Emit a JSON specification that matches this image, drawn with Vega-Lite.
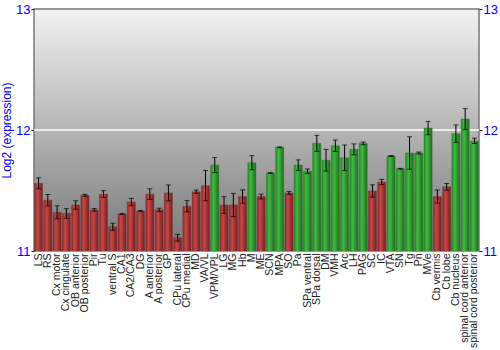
{
  "$schema": "https://vega.github.io/schema/vega-lite/v6.json",
  "width": 445,
  "height": 242,
  "autosize": {"type": "none"},
  "padding": {"left": 34, "top": 9, "right": 21, "bottom": 99},
  "background": "white",
  "config": {
    "font": "Liberation Sans",
    "view": {
      "fill": {"gradient": "linear", "x1": 0, "y1": 0, "x2": 0, "y2": 1,
        "stops": [{"offset": 0, "color": "#f2f2f2"}, {"offset": 1, "color": "#777777"}]},
      "stroke": "#777777",
      "strokeWidth": 1.5
    }
  },
  "datasets": {
    "grid": [{"level": 12}]
  },
  "data": {"values": [
    {"region": "LS", "value": 11.56, "lo": 11.515, "hi": 11.605, "group": "red"},
    {"region": "RS", "value": 11.42, "lo": 11.373, "hi": 11.467, "group": "red"},
    {"region": "Cx motor", "value": 11.32, "lo": 11.266, "hi": 11.374, "group": "red"},
    {"region": "Cx cingulate", "value": 11.31, "lo": 11.27, "hi": 11.35, "group": "red"},
    {"region": "OB anterior", "value": 11.38, "lo": 11.345, "hi": 11.415, "group": "red"},
    {"region": "OB posterior", "value": 11.46, "lo": 11.452, "hi": 11.468, "group": "red"},
    {"region": "Pir", "value": 11.34, "lo": 11.329, "hi": 11.351, "group": "red"},
    {"region": "Tu", "value": 11.47, "lo": 11.442, "hi": 11.498, "group": "red"},
    {"region": "ventral S", "value": 11.2, "lo": 11.171, "hi": 11.229, "group": "red"},
    {"region": "CA1", "value": 11.306, "lo": 11.301, "hi": 11.311, "group": "red"},
    {"region": "CA2/CA3", "value": 11.405, "lo": 11.375, "hi": 11.435, "group": "red"},
    {"region": "DG", "value": 11.33, "lo": 11.325, "hi": 11.335, "group": "red"},
    {"region": "A anterior", "value": 11.47, "lo": 11.426, "hi": 11.514, "group": "red"},
    {"region": "A posterior", "value": 11.34, "lo": 11.326, "hi": 11.354, "group": "red"},
    {"region": "GP", "value": 11.48, "lo": 11.414, "hi": 11.546, "group": "red"},
    {"region": "CPu lateral", "value": 11.11, "lo": 11.082, "hi": 11.138, "group": "red"},
    {"region": "CPu medial", "value": 11.37, "lo": 11.323, "hi": 11.417, "group": "red"},
    {"region": "MD", "value": 11.49, "lo": 11.476, "hi": 11.504, "group": "red"},
    {"region": "VA/VL", "value": 11.54, "lo": 11.415, "hi": 11.665, "group": "red"},
    {"region": "VPM/VPL", "value": 11.71, "lo": 11.648, "hi": 11.772, "group": "green"},
    {"region": "LG", "value": 11.38, "lo": 11.311, "hi": 11.449, "group": "red"},
    {"region": "MG", "value": 11.38, "lo": 11.284, "hi": 11.476, "group": "red"},
    {"region": "Hb", "value": 11.45, "lo": 11.395, "hi": 11.505, "group": "red"},
    {"region": "M", "value": 11.73, "lo": 11.672, "hi": 11.788, "group": "green"},
    {"region": "ME", "value": 11.45, "lo": 11.43, "hi": 11.47, "group": "red"},
    {"region": "SCN", "value": 11.645, "lo": 11.642, "hi": 11.648, "group": "green"},
    {"region": "MPA", "value": 11.857, "lo": 11.854, "hi": 11.86, "group": "green"},
    {"region": "SO", "value": 11.48, "lo": 11.468, "hi": 11.492, "group": "red"},
    {"region": "Pa", "value": 11.71, "lo": 11.667, "hi": 11.753, "group": "green"},
    {"region": "SPa ventral", "value": 11.66, "lo": 11.642, "hi": 11.678, "group": "green"},
    {"region": "SPa dorsal", "value": 11.89, "lo": 11.824, "hi": 11.956, "group": "green"},
    {"region": "DM", "value": 11.75, "lo": 11.66, "hi": 11.84, "group": "green"},
    {"region": "VMH", "value": 11.87, "lo": 11.823, "hi": 11.917, "group": "green"},
    {"region": "Arc", "value": 11.77, "lo": 11.664, "hi": 11.876, "group": "green"},
    {"region": "LH", "value": 11.84, "lo": 11.795, "hi": 11.885, "group": "green"},
    {"region": "PAG", "value": 11.89, "lo": 11.879, "hi": 11.901, "group": "green"},
    {"region": "SC", "value": 11.496, "lo": 11.445, "hi": 11.547, "group": "red"},
    {"region": "IC", "value": 11.57, "lo": 11.548, "hi": 11.592, "group": "red"},
    {"region": "VTA", "value": 11.785, "lo": 11.781, "hi": 11.789, "group": "green"},
    {"region": "SN", "value": 11.68, "lo": 11.677, "hi": 11.683, "group": "green"},
    {"region": "Tg", "value": 11.81, "lo": 11.676, "hi": 11.944, "group": "green"},
    {"region": "Pn", "value": 11.81, "lo": 11.802, "hi": 11.818, "group": "green"},
    {"region": "MVe", "value": 12.016, "lo": 11.961, "hi": 12.071, "group": "green"},
    {"region": "Cb vermis", "value": 11.45, "lo": 11.396, "hi": 11.504, "group": "red"},
    {"region": "Cb lobe", "value": 11.53, "lo": 11.502, "hi": 11.558, "group": "red"},
    {"region": "Cb nucleus", "value": 11.97, "lo": 11.898, "hi": 12.042, "group": "green"},
    {"region": "spinal cord anterior", "value": 12.09, "lo": 12.003, "hi": 12.177, "group": "green"},
    {"region": "spinal cord posterior", "value": 11.91, "lo": 11.888, "hi": 11.932, "group": "green"}
  ]},
  "layer": [
    {
      "data": {"name": "grid"},
      "mark": {"type": "rule", "color": "white", "strokeWidth": 1.5},
      "encoding": {
        "y": {"field": "level", "type": "quantitative", "scale": {"domain": [11, 13], "zero": false, "nice": false},
          "axis": {"orient": "left", "values": [11, 12, 13], "labelExpr": "format(datum.value, 'd')", "title": "Log2 (expression)",
            "titleColor": "#0000ff", "titleFontSize": 12, "titleFontWeight": "normal", "titlePadding": 2,
            "labelColor": "#0000ff", "labelFontSize": 13, "labelPadding": 1, "tickSize": 3, "tickColor": "#222222",
            "labelOverlap": false, "labelFlush": false, "domain": false, "grid": false}}
      }
    },
    {
      "layer": [
        {
          "transform": [{"filter": "datum.group === 'red'"}],
          "mark": {"type": "bar", "clip": true, "color": {"gradient": "linear", "x1": 0, "y1": 0, "x2": 1, "y2": 0,
            "stops": [{"offset": 0, "color": "#8e2222"}, {"offset": 0.35, "color": "#c44a4a"}, {"offset": 1, "color": "#7a1a1a"}]},
            "stroke": "#7a4040", "strokeWidth": 0.5},
          "encoding": {
            "y": {"field": "value", "type": "quantitative", "scale": {"domain": [11, 13], "zero": false, "nice": false},
              "axis": {"orient": "right", "values": [11, 12, 13], "labelExpr": "format(datum.value, 'd')", "title": null,
                "labelColor": "#0000ff", "labelFontSize": 13, "labelPadding": 1, "tickSize": 3, "tickColor": "#222222",
                "labelOverlap": false, "labelFlush": false, "domain": false, "grid": false}}
          }
        },
        {
          "transform": [{"filter": "datum.group === 'green'"}],
          "mark": {"type": "bar", "clip": true, "color": {"gradient": "linear", "x1": 0, "y1": 0, "x2": 1, "y2": 0,
            "stops": [{"offset": 0, "color": "#1f8a1f"}, {"offset": 0.35, "color": "#44b844"}, {"offset": 1, "color": "#176e17"}]},
            "stroke": "#407a40", "strokeWidth": 0.5},
          "encoding": {
            "y": {"field": "value", "type": "quantitative"}
          }
        },
        {
          "mark": {"type": "rule", "color": "black", "strokeWidth": 1},
          "encoding": {
            "y": {"field": "lo", "type": "quantitative"},
            "y2": {"field": "hi"}
          }
        },
        {
          "mark": {"type": "tick", "color": "black", "thickness": 1, "size": 5, "orient": "horizontal"},
          "encoding": {
            "y": {"field": "lo", "type": "quantitative"}
          }
        },
        {
          "mark": {"type": "tick", "color": "black", "thickness": 1, "size": 5, "orient": "horizontal"},
          "encoding": {
            "y": {"field": "hi", "type": "quantitative"}
          }
        }
      ],
      "encoding": {
        "x": {
          "field": "region", "type": "nominal",
          "sort": ["LS", "RS", "Cx motor", "Cx cingulate", "OB anterior", "OB posterior", "Pir", "Tu", "ventral S", "CA1", "CA2/CA3", "DG", "A anterior", "A posterior", "GP", "CPu lateral", "CPu medial", "MD", "VA/VL", "VPM/VPL", "LG", "MG", "Hb", "M", "ME", "SCN", "MPA", "SO", "Pa", "SPa ventral", "SPa dorsal", "DM", "VMH", "Arc", "LH", "PAG", "SC", "IC", "VTA", "SN", "Tg", "Pn", "MVe", "Cb vermis", "Cb lobe", "Cb nucleus", "spinal cord anterior", "spinal cord posterior"],
          "scale": {"paddingInner": 0.12, "paddingOuter": 0.05},
          "axis": {
            "title": null, "labelAngle": 270, "labelAlign": "right", "labelBaseline": "middle",
            "labelFontSize": 10.5, "labelColor": "#222222", "labelPadding": 2,
            "ticks": false, "domain": false, "grid": false, "labelOverlap": false
          }
        }
      }
    }
  ],
  "resolve": {"scale": {"y": "independent", "x": "independent"}, "axis": {"y": "independent"}}
}
